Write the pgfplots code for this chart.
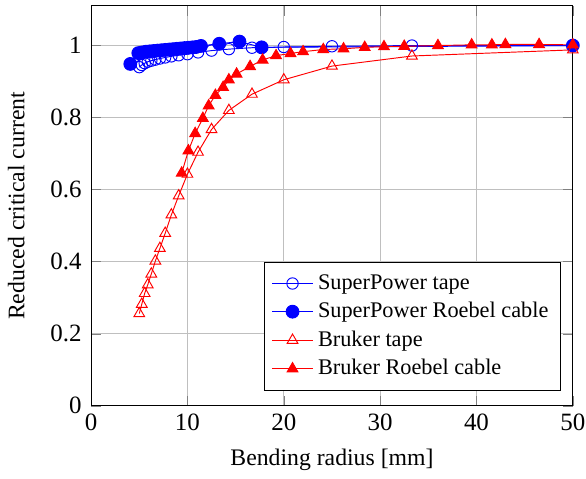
\documentclass[border=0pt]{standalone}
\usepackage{fontspec}
\setmainfont{Liberation Serif}
\usepackage{pgfplots}
\pgfplotsset{compat=1.18}
\begin{document}
\begin{tikzpicture}
\begin{axis}[
  scale only axis,
  width=203pt, height=168.5pt,
  xmin=0, xmax=50, ymin=0, ymax=1.11,
  xtick={0,10,20,30,40,50},
  ytick={0,0.2,0.4,0.6,0.8,1},
  grid=major,
  major grid style={gray!50, line width=0.4pt},
  /pgf/number format/assume math mode=true,
  tick label style={font=\fontsize{10.5}{12.5}\selectfont},
  xticklabel style={inner xsep=0.3pt},
  yticklabel style={xshift=-0.5pt},
  xlabel={Bending radius [mm]},
  ylabel={Reduced critical current},
  ylabel style={yshift=4pt},
  xlabel style={yshift=-0.8pt},
  legend style={at={(0.975,0.038)}, anchor=south east, font=\fontsize{9.4}{11.3}\selectfont, inner sep=3pt},
  legend cell align=left,
]
\addplot[blue, mark=o, mark size=2.4pt, line width=0.4pt] coordinates {
(5.00,0.940) (5.26,0.946) (5.56,0.951) (5.88,0.955) (6.25,0.958) (6.67,0.961)
(7.14,0.964) (7.69,0.967) (8.33,0.970) (9.09,0.973) (10.0,0.976) (11.1,0.981)
(12.5,0.986) (14.3,0.990) (16.7,0.994) (20.0,0.996) (25.0,0.998) (33.3,1.000) (50.0,1.000)
};
\addlegendentry{SuperPower tape}
\addplot[blue, mark=*, mark size=2.7pt, line width=0.4pt] coordinates {
(4.07,0.949) (4.9,0.979) (5.3,0.981) (5.7,0.983) (6.1,0.984) (6.5,0.985) (6.9,0.986)
(7.3,0.987) (7.7,0.988) (8.1,0.989) (8.5,0.990) (8.9,0.991) (9.3,0.992) (9.7,0.993)
(10.1,0.994) (10.5,0.995) (10.9,0.996) (11.4,0.999) (13.3,1.005) (15.4,1.011) (17.7,0.995) (50.0,1.000)
};
\addlegendentry{SuperPower Roebel cable}
\addplot[red, mark=triangle, mark size=2.6pt, line width=0.4pt] coordinates {
(5.00,0.256) (5.26,0.282) (5.56,0.312) (5.88,0.336) (6.25,0.366) (6.67,0.402)
(7.14,0.437) (7.69,0.479) (8.33,0.530) (9.09,0.583) (10.0,0.643) (11.1,0.704)
(12.5,0.767) (14.3,0.820) (16.7,0.865) (20.0,0.905) (25.0,0.943) (33.3,0.971) (50.0,0.988)
};
\addlegendentry{Bruker tape}
\addplot[red, mark=triangle*, mark size=2.6pt, line width=0.4pt] coordinates {
(9.4,0.646) (10.1,0.708) (10.8,0.756) (11.6,0.798) (12.2,0.833) (12.9,0.862)
(13.7,0.884) (14.3,0.905) (15.1,0.921) (16.5,0.942) (17.8,0.960) (19.2,0.972)
(20.7,0.978) (22.0,0.983) (24.1,0.989) (26.2,0.991) (28.4,0.995) (30.4,0.997)
(32.5,0.998) (36.0,1.000) (39.5,1.002) (41.6,1.002) (43.0,1.003) (46.5,1.003) (50.0,1.002)
};
\addlegendentry{Bruker Roebel cable}
\end{axis}
\path ([yshift=2.5pt]current axis.north);
\end{tikzpicture}
\end{document}
